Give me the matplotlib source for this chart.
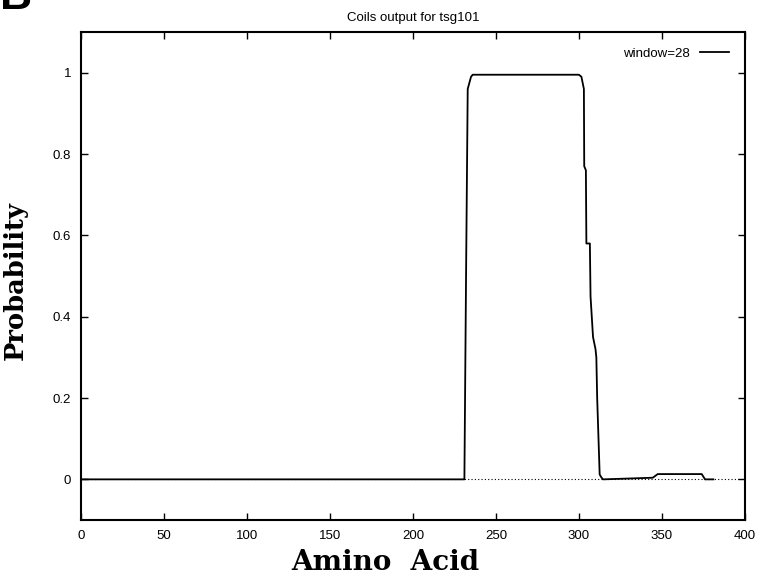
#
# coils_tsg101.py
#

# Coiled-coil probability along tsg101 (COILS, window=28).

import matplotlib
matplotlib.use("Agg")
from matplotlib import pyplot as plt

# breakpoints of the probability trace
residue = [0, 231, 232, 233, 235, 236, 300, 301.5, 303, 303.2, 304.2, 304.5,
           306.6, 307, 308.5, 310, 310.5, 311, 312.5, 313.5, 314.5, 344.5,
           347.5, 374, 376, 381]
probability = [0.0, 0.0, 0.5, 0.96, 0.99, 0.995, 0.995, 0.99, 0.96, 0.77,
               0.76, 0.58, 0.58, 0.45, 0.35, 0.32, 0.30, 0.20, 0.012, 0.005,
               0.0, 0.004, 0.013, 0.013, 0.0, 0.0]

x_ticks = [0, 50, 100, 150, 200, 250, 300, 350, 400]
y_ticks = [0, 0.2, 0.4, 0.6, 0.8, 1]
y_tick_labels = ["0", "0.2", "0.4", "0.6", "0.8", "1"]

sans = "Liberation Sans"
serif = "DejaVu Serif"

fig = plt.figure(figsize=(7.57, 5.78), dpi=100)
ax = fig.add_axes([0.107, 0.1003, 0.877, 0.8443])

ax.axhline(0, color="black", lw=0.8, ls=(0, (1, 2)), zorder=1)
ax.plot(residue, probability, color="black", lw=1.3, label="window=28", zorder=2)

ax.set_xlim(0, 400)
ax.set_ylim(-0.1, 1.1)
ax.set_xticks(x_ticks)
ax.set_xticklabels([str(t) for t in x_ticks], fontfamily=sans, fontsize=9.5)
ax.set_yticks(y_ticks)
ax.set_yticklabels(y_tick_labels, fontfamily=sans, fontsize=9.5)
ax.tick_params(direction="in", top=True, right=True, length=5, width=1, pad=7)
for s in ax.spines.values():
    s.set_linewidth(1.5)

ax.set_title("Coils output for tsg101", fontfamily=sans, fontsize=9.5, pad=8)
ax.set_xlabel("Amino  Acid", fontfamily=serif, fontsize=20, fontweight="bold")
ax.xaxis.set_label_coords(0.458, -0.06)
ax.set_ylabel("Probability", fontfamily=serif, fontsize=18.5, fontweight="bold")
ax.yaxis.set_label_coords(-0.08, 0.49)

ax.legend(loc="upper right", frameon=False, prop={"family": sans, "size": 9.5},
          handlelength=2.2, markerfirst=False, borderaxespad=0.8)

fig.text(0.0, 1.005, "B", fontfamily=sans, fontsize=32, fontweight="bold",
         va="center", ha="left")

fig.savefig("out.png", dpi=100)
